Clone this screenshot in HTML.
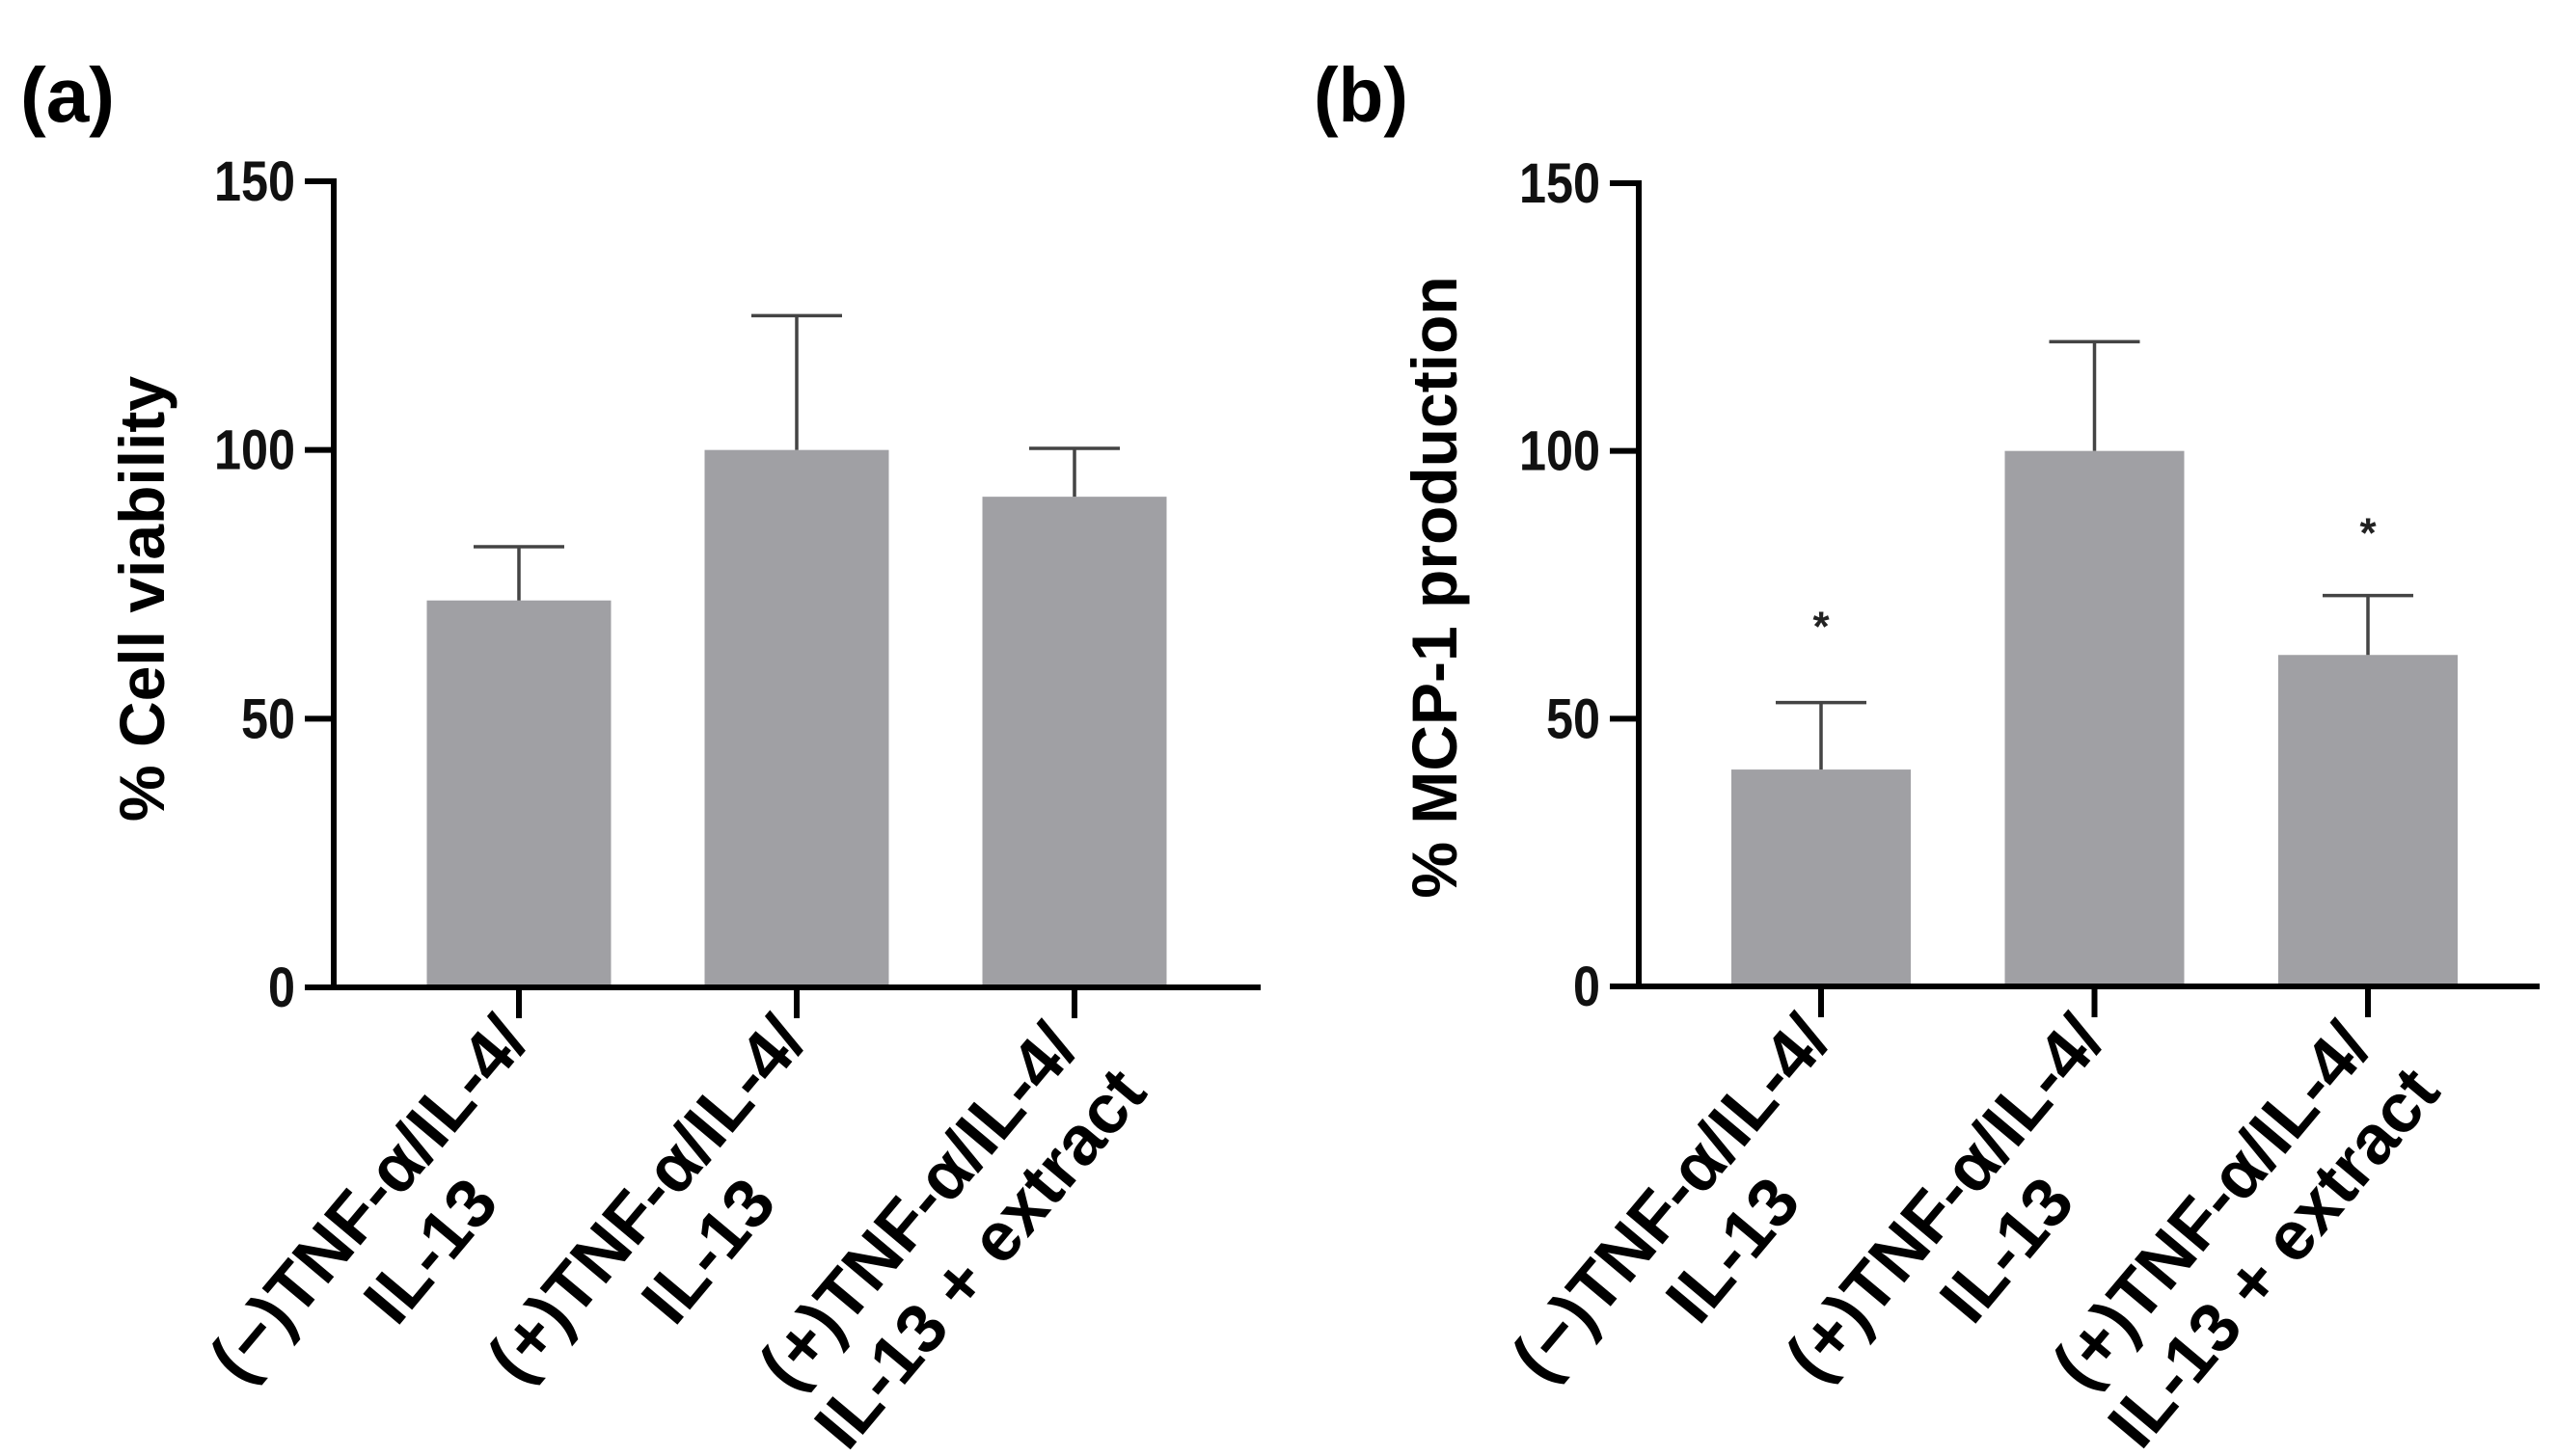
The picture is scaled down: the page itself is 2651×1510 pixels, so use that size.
<!DOCTYPE html>
<html><head><meta charset="utf-8">
<style>
html,body{margin:0;padding:0;background:#fff;}
#root{position:relative;width:2651px;height:1510px;overflow:hidden;font-family:"Liberation Sans",Arial,sans-serif;}
svg{position:absolute;left:0;top:0;}
.xl{position:absolute;font-weight:bold;font-size:72px;line-height:84px;text-align:center;white-space:pre;transform-origin:100% 0;transform:rotate(-50deg);color:#000;}
</style></head>
<body>
<div id="root">
<svg id="svg" width="2651" height="1510"></svg>
</div>
<script>
const categories = ["(\u2212)TNF-\u03b1/IL-4/\nIL-13", "(+)TNF-\u03b1/IL-4/\nIL-13", "(+)TNF-\u03b1/IL-4/\nIL-13 + extract"];
const viabilityValues = [72, 100, 91.3];
const viabilityErrors = [82, 125, 100.3];
const mcpValues = [40.5, 100, 61.9];
const mcpErrors = [53, 120.4, 73];
const mcpStars = [68.5, null, 86];
const yTicks = [0, 50, 100, 150];

const NS = "http://www.w3.org/2000/svg";
const svg = document.getElementById('svg');
const root = document.getElementById('root');
function mk(tag, attrs){const e=document.createElementNS(NS,tag);for(const k in attrs)e.setAttribute(k,attrs[k]);svg.appendChild(e);return e;}

function panel(cfg){
  const yScale = v => cfg.y0 - (cfg.y0 - cfg.y150) * v / 150;
  const xScale = i => cfg.c0 + i * cfg.step;
  cfg.values.forEach((v,i)=>{
    const cx=xScale(i);
    const b=mk('rect',{x:cx-cfg.bw/2,y:yScale(v),width:cfg.bw,height:cfg.y0-yScale(v),fill:'#a0a0a4'});
    
    
    const e=mk('path',{d:`M${cx} ${yScale(v)} V${yScale(cfg.errs[i])} M${cx-47} ${yScale(cfg.errs[i])} H${cx+47}`,stroke:'#444',"stroke-width":3.5,fill:'none'});
    
    
    if(cfg.stars && cfg.stars[i]!=null){
      const s=mk('text',{x:cx,y:yScale(cfg.stars[i])+22,"text-anchor":"middle","font-size":44,"font-weight":"bold","font-family":"Liberation Sans, sans-serif",fill:'#222'});
      s.textContent='*';
      
      
    }
    const t=mk('line',{x1:cx,x2:cx,y1:cfg.y0,y2:cfg.y0+32,stroke:'#000',"stroke-width":6});
    
    
    const d=document.createElement('div');
    d.className='xl';
    d.textContent=categories[i];
    
    
    root.appendChild(d);
    const w=d.offsetWidth;
    d.style.left=(cx-38-w)+'px';
    d.style.top=(cfg.y0+14)+'px';
  });
  const ax=mk('path',{d:`M${cfg.ax} ${cfg.y150-3} V${cfg.y0} H${cfg.xEnd}`,stroke:'#000',"stroke-width":6,fill:'none'});
  
  
  yTicks.forEach(v=>{
    const y=yScale(v);
    const t=mk('line',{x1:cfg.ax-30,x2:cfg.ax,y1:y,y2:y,stroke:'#000',"stroke-width":6});
    
    
    const l=mk('text',{x:cfg.ax-40,y:y+20,"text-anchor":"end","font-size":58,"font-weight":"bold","font-family":"Liberation Sans, sans-serif",fill:'#111',"textLength":(String(v).length*28),"lengthAdjust":"spacingAndGlyphs"});
    l.textContent=v;
    
    
  });
  const yt=mk('text',{x:0,y:0,transform:`translate(${cfg.tx},${cfg.ty}) rotate(-90)`,"text-anchor":"middle","font-size":66,"font-weight":"bold","font-family":"Liberation Sans, sans-serif",fill:'#000'});
  yt.textContent=cfg.title;
  
  
  const pl=mk('text',{x:cfg.lx,y:126,"font-size":80,"font-weight":"bold","font-family":"Liberation Sans, sans-serif",fill:'#000',"textLength":98,"lengthAdjust":"spacingAndGlyphs"});
  pl.textContent=cfg.label;
  
  
}

panel({id:'panel-a',values:viabilityValues,errs:viabilityErrors,y0:1024,y150:188,c0:538,step:288,bw:191,ax:346,xEnd:1307,tx:170,ty:621,title:'% Cell viability',label:'(a)',lx:21});
panel({id:'panel-b',values:mcpValues,errs:mcpErrors,stars:mcpStars,y0:1023,y150:190,c0:1888,step:283.5,bw:186,ax:1699,xEnd:2633,tx:1510,ty:609,title:'% MCP-1 production',label:'(b)',lx:1362});
</script>
</body></html>
